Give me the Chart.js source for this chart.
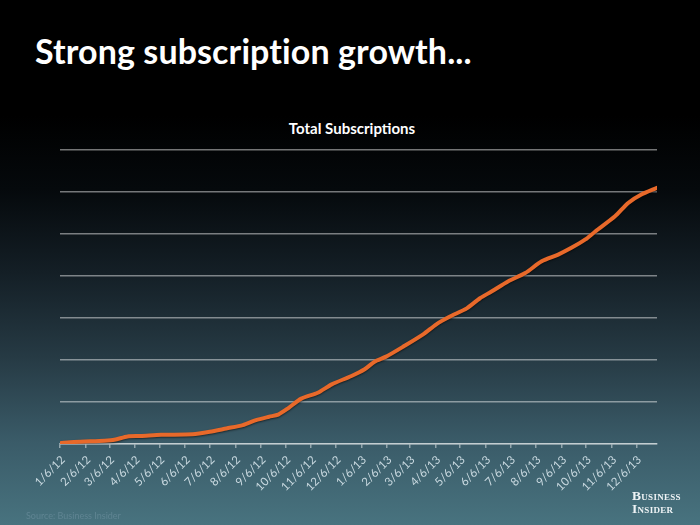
<!DOCTYPE html>
<html>
<head>
<meta charset="utf-8">
<script src="https://cdn.jsdelivr.net/npm/chart.js@4/dist/chart.umd.min.js"></script>
<style>
  html, body { margin: 0; padding: 0; }
  body {
    width: 700px; height: 525px; overflow: hidden; position: relative;
    background: linear-gradient(to bottom, #000000 0%, #000000 22%, #05090c 36%, #141f26 52%, #263a44 68%, #3a5b68 84%, #48737f 100%);
  }
  #title {
    position: absolute; left: 35px; top: 30px;
    font-family: Lato, "Open Sans", sans-serif; font-weight: 700; font-size: 34px;
    color: #ffffff; white-space: nowrap; letter-spacing: 0.1px;
  }
  #ctitle {
    position: absolute; left: 252px; width: 200px; top: 119px; text-align: center;
    font-family: Lato, sans-serif; font-weight: 700; font-size: 15px; color: #ffffff;
  }
  #source {
    position: absolute; left: 26px; top: 510px;
    font-family: Lato, sans-serif; font-size: 9px; color: #5f8492;
  }
  #logo {
    position: absolute; left: 632px; top: 489px;
    font-family: "Liberation Serif", "DejaVu Serif", serif; font-weight: 700;
    font-size: 13.5px; line-height: 13px; color: #eef3f5; font-variant: small-caps;
    letter-spacing: 0.3px;
  }
  #wrap { position: absolute; left: 0; top: 0; width: 700px; height: 525px; }
</style>
</head>
<body>
<div id="title">Strong subscription growth...</div>
<div id="ctitle"></div>
<div id="wrap"><canvas id="c"></canvas></div>
<div id="source">Source: Business Insider</div>
<div id="logo">Business<br>Insider</div>
<script>
// ---- data ----
const chartTitle = 'Total Subscriptions';
const tickLabels = ['1/6/12','2/6/12','3/6/12','4/6/12','5/6/12','6/6/12','7/6/12','8/6/12','9/6/12','10/6/12','11/6/12','12/6/12',
                    '1/6/13','2/6/13','3/6/13','4/6/13','5/6/13','6/6/13','7/6/13','8/6/13','9/6/13','10/6/13','11/6/13','12/6/13'];
// days since 1/6/12 of each sampled point
const sampleDays = [0, 17, 54, 66, 82, 98, 123, 161, 182, 202, 222, 238, 254, 265, 277, 293, 313, 330, 354, 370, 382,
                    396, 417, 441, 457, 473, 494, 510, 524, 544, 565, 585, 605, 621, 638, 650, 674, 690, 706, 725];
// total subscriptions (arbitrary units: one gridline step = 1)
const subscriptions = [0.02, 0.05, 0.08, 0.10, 0.18, 0.19, 0.22, 0.23, 0.29, 0.37, 0.45, 0.57, 0.65, 0.70, 0.85, 1.08, 1.22, 1.42, 1.62, 1.78, 1.96,
                       2.08, 2.32, 2.61, 2.85, 3.03, 3.23, 3.47, 3.63, 3.87, 4.07, 4.35, 4.51, 4.67, 4.87, 5.06, 5.42, 5.74, 5.94, 6.10];

document.getElementById('ctitle').textContent = chartTitle;

const DAY = 86400000;
function parseLabel(s) {
  const p = s.split('/').map(Number);
  return Date.UTC(2000 + p[2], p[0] - 1, p[1]);
}
const start = parseLabel(tickLabels[0]);
const tickDays = tickLabels.map(l => Math.round((parseLabel(l) - start) / DAY));
const points = sampleDays.map((d, i) => ({ x: d, y: subscriptions[i] }));

const gridColor = 'rgba(255,255,255,0.45)';

const shadowPlugin = {
  id: 'lineShadow',
  beforeDatasetDraw(chart) {
    const ctx = chart.ctx; ctx.save();
    ctx.shadowColor = 'rgba(0,0,0,0.55)'; ctx.shadowBlur = 2; ctx.shadowOffsetX = 0; ctx.shadowOffsetY = 1;
  },
  afterDatasetDraw(chart) { chart.ctx.restore(); }
};

new Chart(document.getElementById('c'), {
  type: 'line',
  data: {
    datasets: [{
      label: chartTitle,
      data: points,
      borderColor: '#e8692a',
      borderWidth: 4,
      pointRadius: 0,
      tension: 0.25,
      fill: false,
      borderCapStyle: 'round',
      borderJoinStyle: 'round'
    }]
  },
  options: {
    responsive: true,
    maintainAspectRatio: false,
    animation: false,
    layout: { padding: { left: 60, right: 43, top: 150, bottom: 21 } },
    plugins: {
      legend: { display: false },
      tooltip: { enabled: false },
      title: { display: false }
    },
    scales: {
      x: {
        type: 'linear',
        min: 0, max: sampleDays[sampleDays.length - 1],
        afterBuildTicks(scale) { scale.ticks = tickDays.map(v => ({ value: v })); },
        afterFit(scale) { scale.height = 60; },
        grid: { display: true, drawOnChartArea: false, drawTicks: true, tickLength: 4, color: gridColor, lineWidth: 1.5 },
        border: { display: true, color: gridColor, width: 1.5 },
        ticks: {
          autoSkip: false, maxRotation: 45, minRotation: 45, padding: 5, labelOffset: 3,
          color: '#c9d9e0', font: { family: 'Lato, sans-serif', size: 11.5 },
          callback: (v, i) => tickLabels[i]
        }
      },
      y: {
        min: 0, max: 7,
        afterFit(scale) { scale.width = 0; },
        ticks: { display: false, stepSize: 1 },
        grid: { color: gridColor, lineWidth: 1.5, drawTicks: false },
        border: { display: false }
      }
    }
  },
  plugins: [shadowPlugin]
});
</script>
</body>
</html>
